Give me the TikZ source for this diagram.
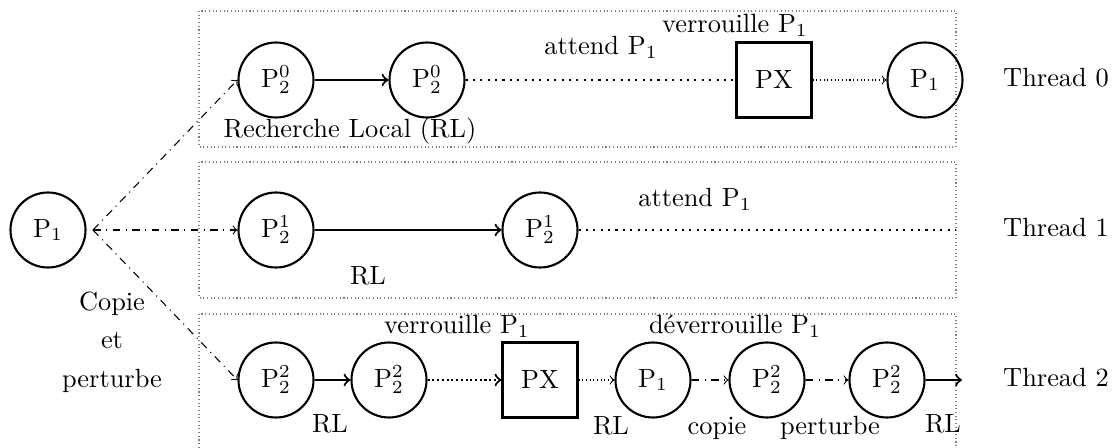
\documentclass[tikz,border=0pt]{standalone}
\usepackage{tikz}
\begin{document}
\begin{tikzpicture}[x=0.13333cm,y=0.13333cm,
    etat/.style={circle, draw, thick, inner sep=0pt, minimum size=1cm},
    verrou/.style={rectangle, draw, thick, inner sep=0pt, minimum size=1cm},
    texte/.style={anchor=base, inner sep=0pt},
    cadre/.style={densely dotted, gray}]
      \useasboundingbox (0,0) rectangle (111.2,44.8);

      % Cadres des threads
      \draw[cadre] (19.9,43.7) rectangle (95.6,30.1);
      \draw[cadre] (19.9,28.6) rectangle (95.6,15.0);
      \draw[cadre] (19.9,13.4) rectangle (95.6,-0.2);

      % Solution de depart
      \node[etat] (P1) at (4.8,21.8) {$\mathrm{P}_1$};
      \coordinate (fork) at (9.3,21.8);
      \node[align=center, inner sep=0pt] (CP) at (11.2,10.6) {Copie\\[2.6pt]et\\[2.6pt]perturbe};

      % Thread 0
      \node[etat] (T0A) at (27.6,36.8) {$\mathrm{P}_2^0$};
      \node[etat] (T0B) at (42.7,36.8) {$\mathrm{P}_2^0$};
      \node[verrou] (T0X) at (77.4,36.8) {PX};
      \node[etat] (T0C) at (92.5,36.8) {$\mathrm{P}_1$};
      \node[texte] (T0L1) at (35.0,31.0) {Recherche Local (RL)};
      \node[texte] (T0L2) at (60.1,39.3) {attend $\mathrm{P}_1$};
      \node[texte] (T0L3) at (73.5,41.5) {verrouille $\mathrm{P}_1$};
      \node[texte] (T0N) at (105.6,36.1) {Thread 0};
      \draw[thick, ->] (T0A) -- (T0B);
      \draw[thick, dotted] (T0B) -- (T0X);
      \draw[densely dotted, ->] (T0X) -- (T0C);

      % Thread 1
      \node[etat] (T1A) at (27.6,21.8) {$\mathrm{P}_2^1$};
      \node[etat] (T1B) at (54.0,21.8) {$\mathrm{P}_2^1$};
      \coordinate (T1E) at (95.6,21.8);
      \node[texte] (T1L1) at (36.8,16.3) {RL};
      \node[texte] (T1L2) at (69.5,24.1) {attend $\mathrm{P}_1$};
      \node[texte] (T1N) at (105.6,21.1) {Thread 1};
      \draw[thick, ->] (T1A) -- (T1B);
      \draw[thick, dotted] (T1B) -- (T1E);

      % Thread 2
      \node[etat] (T2A) at (27.6,6.8) {$\mathrm{P}_2^2$};
      \node[etat] (T2B) at (38.9,6.8) {$\mathrm{P}_2^2$};
      \node[verrou] (T2X) at (54.0,6.8) {PX};
      \node[etat] (T2C) at (65.3,6.8) {$\mathrm{P}_1$};
      \node[etat] (T2D) at (76.7,6.8) {$\mathrm{P}_2^2$};
      \node[etat] (T2E) at (88.7,6.8) {$\mathrm{P}_2^2$};
      \coordinate (T2F) at (96.2,6.8);
      \node[texte] (T2L1) at (33.0,1.5) {RL};
      \node[texte] (T2L2) at (45.7,11.4) {verrouille $\mathrm{P}_1$};
      \node[texte] (T2L3) at (61.1,1.3) {RL};
      \node[texte] (T2L4) at (73.5,11.4) {déverrouille $\mathrm{P}_1$};
      \node[texte] (T2L5) at (71.7,1.3) {copie};
      \node[texte] (T2L6) at (83.0,1.3) {perturbe};
      \node[texte] (T2L7) at (94.3,1.5) {RL};
      \node[texte] (T2N) at (105.6,6.1) {Thread 2};
      \draw[thick, ->] (T2A) -- (T2B);
      \draw[thick, densely dotted, ->] (T2B) -- (T2X);
      \draw[densely dotted, ->] (T2X) -- (T2C);
      \draw[dash dot, ->] (T2C) -- (T2D);
      \draw[dash dot, ->] (T2D) -- (T2E);
      \draw[thick, ->] (T2E) -- (T2F);

      % Copies vers les threads
      \draw[dash dot, ->] (fork) -- (T0A.west);
      \draw[dash dot, ->] (fork) -- (T1A.west);
      \draw[dash dot, ->] (fork) -- (T2A.west);
    \end{tikzpicture}
\end{document}
